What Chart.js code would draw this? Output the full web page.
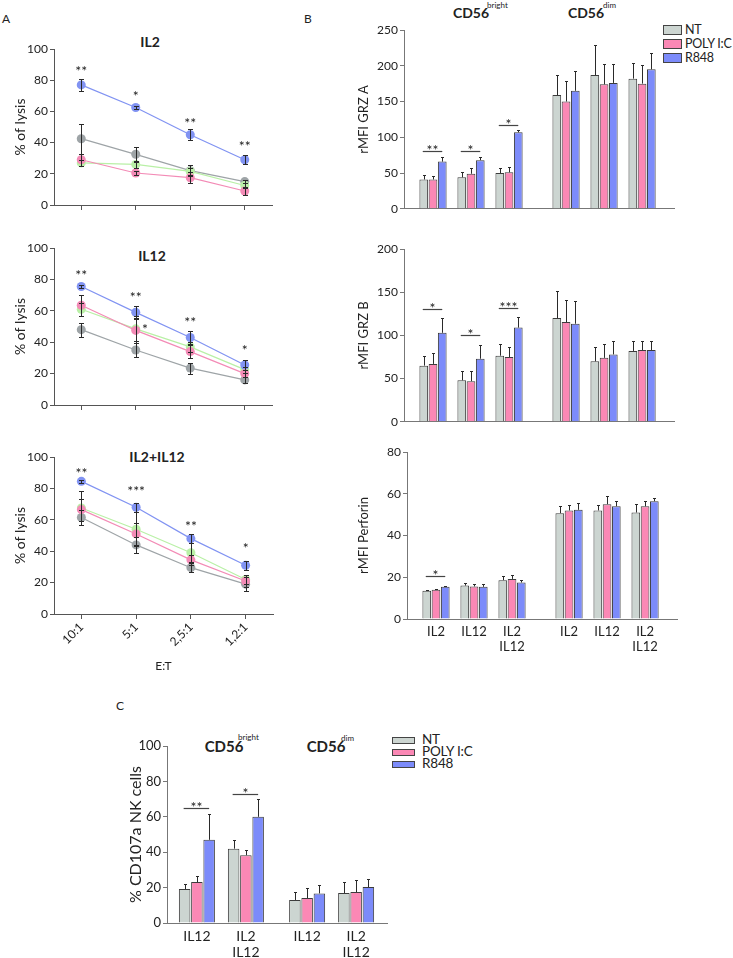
<!DOCTYPE html>
<html>
<head>
<meta charset="utf-8">
<script src="https://cdn.jsdelivr.net/npm/chart.js@4.4.1/dist/chart.umd.min.js"></script>
<style>
  body { margin: 0; background: #fff; width: 733px; height: 958px; position: relative; overflow: hidden; font-family: Lato, "Open Sans", sans-serif; color: #222; }
  canvas { position: absolute; }
  .t { position: absolute; white-space: nowrap; line-height: 1; }
  .letter { font-size: 12px; }
  .ttl { font-weight: 700; font-size: 14px; transform: translate(-50%, -50%); }
  .sup { font-size: 8px; }
  .sw { position: absolute; border: 1.5px solid #444; box-sizing: border-box; }
  .lg { font-size: 12.5px; letter-spacing: -0.2px; transform: translateY(-50%); }
</style>
</head>
<body>

<div class="t letter" style="left:2px;top:13px">A</div>
<div class="t letter" style="left:304px;top:13px">B</div>
<div class="t letter" style="left:116px;top:700px">C</div>

<div class="t ttl" style="left:150px;top:42px">IL2</div>
<div class="t ttl" style="left:152px;top:256px">IL12</div>
<div class="t ttl" style="left:157px;top:457px">IL2+IL12</div>

<div class="t ttl" style="left:471px;top:13px">CD56</div>
<div class="t sup" style="left:487px;top:1px">bright</div>
<div class="t ttl" style="left:586px;top:13px">CD56</div>
<div class="t sup" style="left:603px;top:1px">dim</div>

<div class="t ttl" style="left:224px;top:746px;font-size:15px">CD56</div>
<div class="t sup" style="left:238px;top:733px">bright</div>
<div class="t ttl" style="left:326px;top:746px;font-size:15px">CD56</div>
<div class="t sup" style="left:341px;top:734px">dim</div>

<div class="sw" style="left:663px;top:25px;width:19px;height:10px;background:#ccd5d1"></div>
<div class="sw" style="left:663px;top:39px;width:19px;height:10px;background:#fb88b5"></div>
<div class="sw" style="left:663px;top:53px;width:19px;height:10px;background:#7c8bfa"></div>
<div class="t lg" style="left:685px;top:30px">NT</div>
<div class="t lg" style="left:685px;top:44px">POLY I:C</div>
<div class="t lg" style="left:685px;top:58px">R848</div>

<div class="sw" style="left:392px;top:737px;width:23px;height:7px;background:#ccd5d1"></div>
<div class="sw" style="left:392px;top:749px;width:23px;height:7px;background:#fb88b5"></div>
<div class="sw" style="left:392px;top:761px;width:23px;height:7px;background:#7c8bfa"></div>
<div class="t lg" style="left:422px;top:740px;font-size:13.5px">NT</div>
<div class="t lg" style="left:422px;top:752px;font-size:13.5px">POLY I:C</div>
<div class="t lg" style="left:422px;top:764px;font-size:13.5px">R848</div>

<canvas id="a1"></canvas>
<canvas id="a2"></canvas>
<canvas id="a3"></canvas>
<canvas id="b1"></canvas>
<canvas id="b2"></canvas>
<canvas id="b3"></canvas>
<canvas id="c1"></canvas>

<script>
// Panel A - % of lysis at each E:T ratio
const ratioLabels = ['10:1', '5:1', '2,5:1', '1,2:1'];

const il2Blue = [77, 62.5, 45, 29];
const il2BlueErr = [4, 1, 3.5, 3];
const il2Pink = [29, 20.5, 17.5, 9];
const il2PinkErr = [4, 1.5, 3.5, 2.5];
const il2Green = [27, 26, 21.5, 12.5];
const il2GreenErr = [2, 2, 2, 1.5];
const il2Grey = [42.5, 32.5, 22, 15];
const il2GreyErr = [9.5, 5, 3.5, 1];
const il2Stars = [{ i: 0, v: 88, t: '**' }, { i: 1, v: 72, t: '*' }, { i: 2, v: 54.5, t: '**' }, { i: 3, v: 40, t: '**' }];

const il12Blue = [75.5, 59, 43, 25.5];
const il12BlueErr = [1, 4, 4, 3];
const il12Pink = [63.5, 47.5, 34, 20];
const il12PinkErr = [6.5, 8, 4, 2];
const il12Green = [61, 48.5, 37, 22.5];
const il12GreenErr = [4, 8, 3, 2];
const il12Grey = [48, 35, 23.5, 16];
const il12GreyErr = [4.5, 4.5, 3.5, 2];
const il12Stars = [{ i: 0, v: 84.5, t: '**' }, { i: 1, v: 70.7, t: '**' }, { i: 1.17, v: 50.3, t: '*' }, { i: 2, v: 54.6, t: '**' }, { i: 3, v: 37, t: '*' }];

const il212Blue = [84.5, 68, 48, 31];
const il212BlueErr = [1, 3, 3, 3];
const il212Pink = [66.5, 51, 34.5, 21];
const il212PinkErr = [7, 7, 3, 4];
const il212Green = [67.5, 54, 39, 22];
const il212GreenErr = [11, 11, 6, 3];
const il212Grey = [61.5, 44, 29.5, 19];
const il212GreyErr = [5, 5, 3, 4.5];
const il212Stars = [{ i: 0, v: 92, t: '**' }, { i: 1, v: 80, t: '***' }, { i: 2, v: 58, t: '**' }, { i: 3, v: 44, t: '*' }];

// Panel B - rMFI, three groups CD56bright then three CD56dim
const bPositions = [1, 2, 3, 4.5, 5.5, 6.5];
const bLabels = ['IL2', 'IL12', ['IL2', 'IL12'], 'IL2', 'IL12', ['IL2', 'IL12']];
const treatments = ['NT', 'POLY I:C', 'R848'];

const grzaNT = [41, 44, 50, 159, 187, 182];
const grzaNTErr = [6, 7, 7, 28, 42, 22];
const grzaPoly = [41, 49, 51, 150, 174, 175];
const grzaPolyErr = [5, 8, 7, 28, 28, 26];
const grzaR848 = [66, 68, 107, 165, 176, 195];
const grzaR848Err = [6, 5, 3, 27, 26, 23];
const grzaSig = [{ i: 0, v: 81, t: '**' }, { i: 1, v: 81, t: '*' }, { i: 2, v: 117, t: '*' }];

const grzbNT = [65, 48, 76.5, 120, 70, 82];
const grzbNTErr = [11.5, 11, 13.5, 31, 16, 12];
const grzbPoly = [67, 47, 75, 115.5, 74, 83];
const grzbPolyErr = [12.5, 12, 12, 25, 16, 11];
const grzbR848 = [103, 73, 109, 113.5, 78, 83];
const grzbR848Err = [17, 16, 12, 26.5, 15.5, 10];
const grzbSig = [{ i: 0, v: 131, t: '*' }, { i: 1, v: 100, t: '*' }, { i: 2, v: 132, t: '***' }];

const perfNT = [13.5, 16, 18.6, 50.7, 52, 51];
const perfNTErr = [0.5, 1.2, 2.1, 3.5, 2.8, 4.2];
const perfPoly = [14, 15.6, 19.2, 52, 55, 54];
const perfPolyErr = [0.5, 1.3, 1.9, 2.5, 4.1, 2.4];
const perfR848 = [15.4, 15.4, 17.5, 52.3, 54, 56.4];
const perfR848Err = [0.6, 1.3, 1.1, 3.2, 2.4, 1.8];
const perfSig = [{ i: 0, v: 20.6, t: '*' }];

// Panel C - % CD107a NK cells
const cPositions = [1, 2, 3.25, 4.25];
const cLabels = ['IL12', ['IL2', 'IL12'], 'IL12', ['IL2', 'IL12']];
const cNT = [19.2, 42, 13, 16.9];
const cNTErr = [2.8, 4.8, 4.3, 6.2];
const cPoly = [23.1, 38.3, 14.1, 17.5];
const cPolyErr = [3.4, 2.9, 5.4, 6.7];
const cR848 = [47, 60, 16.7, 20.3];
const cR848Err = [14.5, 10, 4.7, 4.5];
const cSig = [{ i: 0, v: 65, t: '**' }, { i: 1, v: 73, t: '*' }];

const lineColors = { blue: '#8193f2', pink: '#f38bb6', green: '#b9f0a6', grey: '#9ea4a7' };
const barFill = ['#ccd5d1', '#fb88b5', '#7c8bfa'];
const ink = '#222';

Chart.defaults.font.family = 'Lato, "Open Sans", sans-serif';
Chart.defaults.color = ink;

// error bars: both directions for lines, upward only for bars
const errorBars = {
    id: 'errorBars',
    afterDatasetsDraw(chart, args, options) {
        const { ctx } = chart;
        const y = chart.scales.y;
        const cap = options.cap || 2;
        ctx.save();
        ctx.strokeStyle = options.color || '#2a2a2a';
        ctx.lineWidth = 1;
        chart.data.datasets.forEach((ds, di) => {
            if (!ds.err) return;
            chart.getDatasetMeta(di).data.forEach((el, i) => {
                const raw = ds.data[i];
                const v = typeof raw === 'object' ? raw.y : raw;
                const e = ds.err[i];
                const x = Math.round(el.x) + 0.5;
                const top = Math.round(y.getPixelForValue(v + e)) + 0.5;
                const bot = options.both ? Math.round(y.getPixelForValue(v - e)) + 0.5 : el.y;
                ctx.beginPath();
                ctx.moveTo(x, bot);
                ctx.lineTo(x, top);
                ctx.moveTo(x - cap, top);
                ctx.lineTo(x + cap, top);
                if (options.both) {
                    ctx.moveTo(x - cap, bot);
                    ctx.lineTo(x + cap, bot);
                }
                ctx.stroke();
            });
        });
        ctx.restore();
    }
};

// significance stars, with a bracket line for the bar panels
const sigMarks = {
    id: 'sigMarks',
    afterDatasetsDraw(chart, args, options) {
        if (!options.items) return;
        const { ctx } = chart;
        const y = chart.scales.y;
        const first = chart.getDatasetMeta(0);
        const last = chart.getDatasetMeta(chart.data.datasets.length - 1);
        ctx.save();
        ctx.fillStyle = ink;
        ctx.strokeStyle = '#444';
        ctx.lineWidth = 1.2;
        ctx.font = (options.size || 13) + 'px Lato, "Open Sans", sans-serif';
        ctx.textAlign = 'center';
        ctx.textBaseline = 'alphabetic';
        options.items.forEach(m => {
            const py = Math.round(y.getPixelForValue(m.v)) + 0.5;
            if (options.line) {
                const x1 = first.data[m.i].x - 1;
                const x2 = last.data[m.i].x;
                ctx.beginPath();
                ctx.moveTo(x1, py);
                ctx.lineTo(x2, py);
                ctx.stroke();
                ctx.fillText(m.t, (x1 + x2) / 2, py + 3);
            } else {
                ctx.fillText(m.t, chart.scales.x.getPixelForValue(m.i), py + 7);
            }
        });
        ctx.restore();
    }
};

// size the canvas and return the padding that puts the plot area where it belongs
function place(id, box, area, yW, xH) {
    const cv = document.getElementById(id);
    cv.width = box.w;
    cv.height = box.h;
    cv.style.left = box.x + 'px';
    cv.style.top = box.y + 'px';
    return {
        left: area.l - box.x - yW,
        top: area.t - box.y,
        right: box.x + box.w - area.r,
        bottom: box.y + box.h - area.b - xH
    };
}

function lysisChart(id, box, area, series, stars, showLabels) {
    const yW = 45;
    const xH = showLabels ? 63 : 12;
    const axisColor = '#555';
    return new Chart(document.getElementById(id), {
        type: 'line',
        data: {
            labels: ratioLabels,
            datasets: series.map(s => ({
                data: s.data,
                err: s.err,
                borderColor: s.color,
                backgroundColor: s.color,
                pointBackgroundColor: s.color,
                pointBorderWidth: 0,
                pointRadius: 4.5,
                borderWidth: 1.2,
                tension: 0
            }))
        },
        options: {
            responsive: false,
            animation: false,
            events: [],
            layout: { padding: place(id, box, area, yW, xH) },
            plugins: {
                legend: { display: false },
                tooltip: { enabled: false },
                errorBars: { both: true, cap: 2.5 },
                sigMarks: { items: stars, size: 14 }
            },
            scales: {
                x: {
                    offset: true,
                    grid: { drawOnChartArea: false, tickLength: 5, color: axisColor },
                    border: { color: axisColor },
                    ticks: { display: showLabels, minRotation: 45, maxRotation: 45, padding: 1, font: { size: 12 } },
                    title: { display: showLabels, text: 'E:T', font: { size: 12 } },
                    afterFit: s => { s.height = xH; }
                },
                y: {
                    min: 0,
                    max: 100,
                    ticks: { stepSize: 20, padding: 2, font: { size: 12 } },
                    grid: { drawOnChartArea: false, tickLength: 4, color: axisColor },
                    border: { color: axisColor },
                    title: { display: true, text: '% of lysis', font: { size: 14 }, padding: { top: 3, bottom: 0 } },
                    afterFit: s => { s.width = yW; }
                }
            }
        },
        plugins: [errorBars, sigMarks]
    });
}

function barChart(id, box, area, cfg) {
    const axisColor = '#777';
    return new Chart(document.getElementById(id), {
        type: 'bar',
        data: {
            datasets: cfg.series.map((s, k) => ({
                label: treatments[k],
                data: cfg.pos.map((x, i) => ({ x, y: s.v[i] })),
                err: s.e,
                backgroundColor: barFill[k],
                borderColor: '#3c3c3c',
                borderWidth: 1,
                borderSkipped: 'bottom',
                categoryPercentage: cfg.cat,
                barPercentage: 0.94
            }))
        },
        options: {
            responsive: false,
            animation: false,
            events: [],
            layout: { padding: place(id, box, area, cfg.yW, cfg.xH) },
            plugins: {
                legend: { display: false },
                tooltip: { enabled: false },
                errorBars: { both: false, cap: 1.5 },
                sigMarks: { items: cfg.sig, line: true, size: 14 }
            },
            scales: {
                x: {
                    type: 'linear',
                    offset: false,
                    min: cfg.min,
                    max: cfg.max,
                    afterBuildTicks: s => { s.ticks = cfg.pos.map(v => ({ value: v })); },
                    grid: { display: false, drawTicks: false, offset: false },
                    border: { color: axisColor },
                    ticks: {
                        display: !!cfg.labels,
                        autoSkip: false,
                        maxRotation: 0,
                        padding: 5,
                        font: { size: cfg.labelSize || 13, lineHeight: 1.18 },
                        callback: (v, i) => cfg.labels ? cfg.labels[i] : ''
                    },
                    afterFit: s => { s.height = cfg.xH; }
                },
                y: {
                    min: 0,
                    max: cfg.yMax,
                    ticks: { stepSize: cfg.yStep, padding: 2, font: { size: cfg.tickSize || 12 } },
                    grid: { drawOnChartArea: false, tickLength: 4, color: axisColor },
                    border: { color: axisColor },
                    title: { display: true, text: cfg.title, font: { size: cfg.titleSize || 13 }, padding: { top: 4, bottom: 0 } },
                    afterFit: s => { s.width = cfg.yW; }
                }
            }
        },
        plugins: [errorBars, sigMarks]
    });
}

lysisChart('a1', { x: 0, y: 28, w: 290, h: 195 }, { l: 54, t: 49, r: 272, b: 205 }, [
    { data: il2Blue, err: il2BlueErr, color: lineColors.blue },
    { data: il2Pink, err: il2PinkErr, color: lineColors.pink },
    { data: il2Green, err: il2GreenErr, color: lineColors.green },
    { data: il2Grey, err: il2GreyErr, color: lineColors.grey }
], il2Stars, false);

lysisChart('a2', { x: 0, y: 228, w: 290, h: 195 }, { l: 54, t: 248, r: 272, b: 405 }, [
    { data: il12Blue, err: il12BlueErr, color: lineColors.blue },
    { data: il12Pink, err: il12PinkErr, color: lineColors.pink },
    { data: il12Green, err: il12GreenErr, color: lineColors.green },
    { data: il12Grey, err: il12GreyErr, color: lineColors.grey }
], il12Stars, false);

lysisChart('a3', { x: 0, y: 432, w: 290, h: 248 }, { l: 54, t: 457, r: 273, b: 614 }, [
    { data: il212Blue, err: il212BlueErr, color: lineColors.blue },
    { data: il212Pink, err: il212PinkErr, color: lineColors.pink },
    { data: il212Green, err: il212GreenErr, color: lineColors.green },
    { data: il212Grey, err: il212GreyErr, color: lineColors.grey }
], il212Stars, true);

barChart('b1', { x: 330, y: 18, w: 380, h: 200 }, { l: 404, t: 30, r: 674, b: 212 }, {
    pos: bPositions, min: 0.237, max: 7.34, cat: 0.73, yW: 52, xH: 4,
    yMax: 250, yStep: 50, title: 'rMFI GRZ A', sig: grzaSig,
    series: [{ v: grzaNT, e: grzaNTErr }, { v: grzaPoly, e: grzaPolyErr }, { v: grzaR848, e: grzaR848Err }]
});

barChart('b2', { x: 330, y: 236, w: 380, h: 195 }, { l: 404, t: 249, r: 674, b: 423 }, {
    pos: bPositions, min: 0.237, max: 7.34, cat: 0.73, yW: 52, xH: 4,
    yMax: 200, yStep: 50, title: 'rMFI GRZ B', sig: grzbSig,
    series: [{ v: grzbNT, e: grzbNTErr }, { v: grzbPoly, e: grzbPolyErr }, { v: grzbR848, e: grzbR848Err }]
});

barChart('b3', { x: 330, y: 440, w: 380, h: 230 }, { l: 407, t: 452, r: 677, b: 619 }, {
    pos: bPositions, min: 0.237, max: 7.34, cat: 0.73, yW: 55, xH: 40,
    yMax: 80, yStep: 20, title: 'rMFI Perforin', sig: perfSig, labels: bLabels,
    series: [{ v: perfNT, e: perfNTErr }, { v: perfPoly, e: perfPolyErr }, { v: perfR848, e: perfR848Err }]
});

barChart('c1', { x: 100, y: 726, w: 320, h: 232 }, { l: 167, t: 746, r: 387, b: 923 }, {
    pos: cPositions, min: 0.39, max: 4.88, cat: 0.75, yW: 45, xH: 34,
    yMax: 100, yStep: 20, title: '% CD107a NK cells', titleSize: 16, tickSize: 13, labelSize: 14, sig: cSig, labels: cLabels,
    series: [{ v: cNT, e: cNTErr }, { v: cPoly, e: cPolyErr }, { v: cR848, e: cR848Err }]
});
</script>
</body>
</html>
